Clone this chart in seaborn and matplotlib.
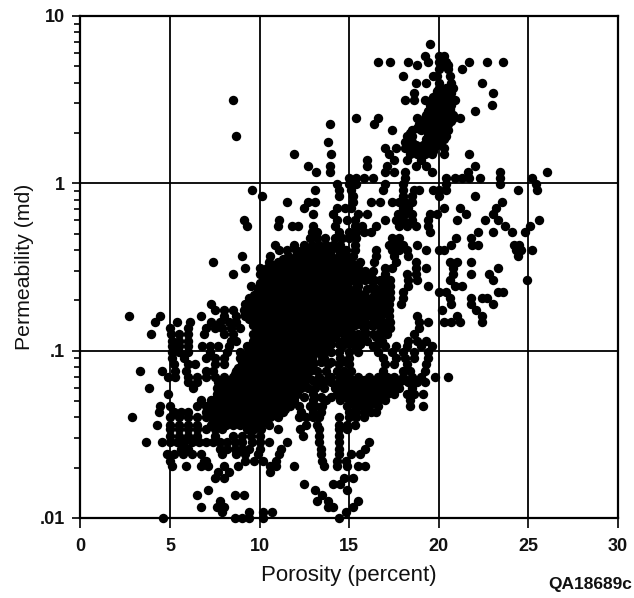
import matplotlib
matplotlib.use("Agg")
import matplotlib.pyplot as plt
from matplotlib.ticker import FixedLocator, FixedFormatter, NullFormatter
import pandas as pd
import seaborn as sns

# Permeability levels (md) and the porosities (percent) read at each level.
upper_perm = [6.8, 5.8, 5.3, 5.1, 4.8, 4.4, 4.0, 3.7, 3.45, 3.15, 2.95, 2.7, 2.46, 2.26, 2.08,
              1.92, 1.76, 1.62, 1.5, 1.38, 1.27, 1.17, 1.08, .99, .91, .84, .77, .71, .655, .60,
              .555, .51, .47]
upper_por = [
    [19.5], [19.2, 20.0, 20.3], [16.6, 17.3, 18.3, 19.4, 20.0, 20.4, 21.7, 22.7, 23.6],
    [18.8, 20.1, 20.5], [20.0, 20.5, 21.3], [18.0, 19.7, 19.9, 20.6],
    [18.7, 19.3, 20.0, 20.7, 22.4], [20.0, 20.4, 20.8], [18.6, 19.9, 20.3, 20.7, 23.0],
    [8.5, 18.1, 18.6, 19.2, 19.7, 20.1, 20.5, 20.9], [19.5, 19.9, 20.3, 20.7, 22.95],
    [19.4, 19.8, 20.2, 20.6, 22.0], [15.4, 16.6, 18.8, 19.2, 19.6, 20.0, 20.4, 20.8, 21.2],
    [13.95, 16.4, 18.9, 19.3, 19.7, 20.1, 20.5], [17.4, 18.5, 19.0, 19.4, 19.8, 20.2, 20.5],
    [8.7, 18.2, 18.5, 19.4, 19.7, 20.0, 20.4], [13.8, 18.1, 18.5, 19.3, 19.7, 20.1],
    [17.0, 17.6, 18.1, 18.5, 18.9, 19.3, 19.7, 20.3], [11.9, 14.0, 17.2, 18.4, 18.8, 19.2, 19.6, 20.3, 21.7],
    [16.0, 17.5, 18.2, 19.0], [12.7, 13.9, 16.0, 17.1, 18.7, 19.3, 22.0],
    [13.15, 13.9, 17.0, 17.5, 18.1, 19.6, 21.6, 23.4, 26.05],
    [15.0, 15.4, 15.8, 16.3, 18.1, 20.4, 20.9, 21.3, 21.7, 22.3, 23.4, 25.2],
    [14.3, 15.0, 15.4, 17.0, 18.0, 20.4, 23.4, 25.4],
    [9.55, 13.1, 14.4, 15.1, 16.9, 18.0, 18.6, 18.9, 19.7, 20.0, 20.4, 24.4, 25.5],
    [10.15, 14.4, 15.2, 18.0, 18.5, 20.0, 22.0],
    [11.55, 12.7, 13.1, 15.2, 16.2, 16.7, 17.4, 17.8, 18.1, 18.5, 23.55],
    [12.45, 14.3, 14.75, 15.1, 18.0, 18.3, 20.3, 21.2, 23.2],
    [12.95, 14.1, 15.5, 16.0, 17.7, 18.1, 18.5, 19.5, 19.9, 21.5, 23.0],
    [9.1, 11.1, 14.3, 14.9, 15.3, 17.0, 17.6, 18.0, 18.5, 19.4, 21.0, 22.6, 23.3, 25.6],
    [9.3, 11.0, 11.8, 12.15, 13.0, 14.2, 15.3, 15.7, 16.5, 17.8, 18.2, 18.7, 19.4, 23.7, 25.1],
    [12.9, 13.2, 14.4, 15.0, 15.4, 15.8, 16.2, 19.5, 22.2, 23.0, 24.1, 24.8],
    [12.8, 13.2, 13.65, 14.2, 14.6, 15.0, 15.4, 17.4, 17.8, 20.95, 21.8],
]

core_perm = [.43, .40, .37, .34, .31, .287, .264, .243, .224, .206, .19, .175, .161, .148, .136,
             .125, .115, .106, .098, .09, .083, .076]
core_por = [
    [10.85, 11.9, 12.45, 12.9, 13.3, 13.7, 14.1, 14.5, 15.3, 17.2, 17.6, 18.0, 18.8, 20.7, 21.85, 22.2, 24.2, 24.5],
    [11.1, 11.5, 12.0, 12.4, 12.8, 13.2, 13.6, 14.0, 14.4, 14.8, 15.3, 16.5, 17.4, 17.8, 18.2, 19.3, 20.0, 20.3, 24.3, 24.6, 25.2],
    [9.0, 10.6, 11.6, 12.0, 12.4, 12.8, 13.2, 13.6, 14.0, 14.4, 14.8, 15.2, 16.5, 17.5, 18.3, 24.4],
    [7.4, 10.5, 11.0, 11.5, 11.9, 12.3, 12.7, 13.1, 13.5, 13.9, 14.3, 14.7, 15.1, 15.6, 16.4, 17.6, 18.7, 20.6, 21.0, 21.8],
    [9.2, 10.0, 10.4, 10.8, 11.2, 11.7, 12.1, 12.5, 12.9, 13.3, 13.7, 14.1, 14.5, 14.9, 15.4, 17.0, 17.4, 18.7, 19.3, 20.8, 23.3],
    [8.5, 10.0, 10.4, 10.9, 11.3, 11.7, 12.2, 12.6, 13.0, 13.4, 13.8, 14.2, 14.6, 15.0, 15.4, 15.8, 16.2, 17.0, 18.2, 18.7, 20.8, 21.8, 22.8],
    [10.2, 10.6, 11.0, 11.5, 11.9, 12.4, 12.8, 13.2, 13.6, 14.0, 14.4, 14.8, 15.2, 15.6, 16.4, 17.0, 17.3, 18.3, 18.8, 20.6, 23.0, 24.9],
    [9.5, 10.0, 10.4, 10.8, 11.2, 11.7, 12.1, 12.5, 12.9, 13.3, 13.7, 14.1, 14.5, 14.9, 15.5, 16.3, 16.9, 17.3, 18.3, 19.4, 20.9, 21.3],
    [9.9, 10.3, 10.7, 11.1, 11.5, 11.9, 12.3, 12.7, 13.1, 13.5, 13.9, 14.3, 14.7, 15.1, 15.5, 16.7, 17.3, 18.0, 20.0, 20.4, 23.3, 23.6],
    [9.4, 9.8, 10.2, 10.6, 11.0, 11.4, 11.8, 12.2, 12.6, 13.0, 13.4, 13.8, 14.2, 14.6, 15.0, 15.5, 16.0, 16.6, 17.3, 18.0, 20.6, 21.8, 22.4, 22.7],
    [7.3, 9.2, 9.6, 10.0, 10.4, 10.8, 11.2, 11.6, 12.0, 12.4, 12.8, 13.2, 13.6, 14.0, 14.4, 14.8, 15.3, 15.9, 16.5, 17.2, 17.9, 20.7, 21.8, 23.0],
    [7.5, 8.0, 8.5, 9.1, 9.5, 9.9, 10.3, 10.7, 11.1, 11.5, 11.9, 12.3, 12.7, 13.1, 13.5, 13.9, 14.3, 14.7, 15.1, 15.6, 16.4, 17.2, 20.2, 22.1],
    [2.7, 4.45, 6.7, 8.0, 8.7, 9.2, 9.6, 10.0, 10.4, 10.8, 11.2, 11.6, 12.0, 12.4, 12.8, 13.2, 13.6, 14.0, 14.4, 14.9, 15.4, 16.7, 17.2, 18.8, 21.0, 22.4],
    [4.15, 5.4, 6.1, 7.3, 7.8, 8.3, 8.7, 9.6, 10.0, 10.4, 10.8, 11.2, 11.7, 12.1, 12.5, 12.9, 13.3, 13.7, 14.1, 14.5, 15.1, 15.8, 16.3, 16.9, 17.3, 18.9, 19.4, 20.3, 20.7, 21.2, 22.4],
    [5.0, 6.0, 7.0, 7.5, 7.9, 8.4, 8.9, 9.9, 10.3, 10.7, 11.1, 11.5, 11.9, 12.3, 12.7, 13.1, 13.5, 13.9, 14.3, 14.9, 15.8, 16.9, 17.3, 18.9],
    [3.95, 5.05, 5.5, 6.0, 6.9, 8.0, 8.5, 9.6, 10.0, 10.4, 10.8, 11.2, 11.6, 12.0, 12.4, 12.8, 13.2, 13.6, 14.0, 14.7, 15.5, 16.3, 17.1, 18.6],
    [5.1, 5.5, 6.0, 8.4, 8.7, 9.6, 10.2, 10.6, 11.0, 11.4, 11.8, 12.2, 12.6, 13.0, 13.4, 13.8, 14.6, 15.2, 16.0, 16.8, 18.3, 18.8, 19.3],
    [5.1, 5.5, 6.0, 6.8, 7.2, 7.7, 8.3, 9.3, 9.8, 10.2, 10.6, 11.0, 11.4, 11.8, 12.2, 12.6, 13.0, 13.4, 13.8, 14.6, 15.3, 16.3, 17.0, 17.6, 18.2, 19.0, 19.6],
    [5.1, 5.5, 6.0, 7.2, 8.2, 8.9, 9.6, 10.0, 10.4, 10.8, 11.2, 11.6, 12.0, 12.4, 12.8, 13.2, 14.0, 15.5, 16.6, 17.4, 18.0, 18.6, 19.4],
    [5.1, 5.8, 7.0, 7.5, 8.0, 8.9, 9.3, 9.7, 10.1, 10.5, 10.9, 11.3, 11.7, 12.1, 12.5, 12.9, 13.6, 14.5, 15.0, 16.9, 17.6, 18.1, 18.6, 19.4],
    [5.2, 6.0, 6.4, 7.5, 8.0, 9.1, 9.5, 9.9, 10.3, 10.7, 11.1, 11.5, 11.9, 12.3, 12.7, 13.0, 13.8, 14.4, 15.0, 17.0, 17.5, 18.2, 19.3],
    [3.3, 4.55, 5.3, 5.9, 7.0, 7.4, 8.7, 9.1, 9.5, 9.9, 10.3, 10.7, 11.1, 11.5, 11.9, 12.3, 12.8, 13.7, 14.3, 15.1, 16.9, 18.0, 18.4, 19.2],
]

lower_perm = [.07, .065, .06, .055, .051, .047, .043, .04, .036, .034, .031, .0285, .026, .024, .022,
              .0205, .0188, .0173, .016, .0147, .0138, .0127, .0117, .0108, .01]
lower_por = [
    [4.9, 5.3, 6.0, 6.5, 7.0, 7.5, 8.0, 8.5, 8.9, 9.3, 9.7, 10.1, 10.5, 10.9, 11.3, 11.7, 12.1, 12.6, 13.3, 14.0, 14.5, 15.0, 15.5, 16.1, 16.6, 17.1, 17.5, 18.0, 18.5, 19.0, 19.8, 20.5],
    [6.0, 6.5, 7.7, 8.1, 8.5, 8.9, 9.3, 9.7, 10.1, 10.5, 10.9, 11.3, 11.7, 12.1, 12.5, 13.3, 14.0, 14.4, 14.8, 15.2, 15.6, 16.0, 16.4, 16.8, 17.3, 17.8, 18.3, 18.8, 19.2],
    [3.8, 6.3, 7.6, 8.0, 8.4, 8.8, 9.2, 9.6, 10.0, 10.4, 10.8, 11.2, 11.6, 12.0, 12.3, 13.1, 14.2, 14.6, 15.0, 15.4, 15.8, 16.2, 16.6, 17.0, 17.4, 17.8, 18.5],
    [4.9, 7.6, 7.9, 8.3, 8.7, 9.1, 9.5, 9.9, 10.3, 10.7, 11.1, 11.5, 12.1, 13.0, 14.3, 14.7, 15.1, 15.5, 15.9, 16.3, 16.7, 17.1, 17.5, 18.2, 18.6, 19.1],
    [6.7, 7.3, 7.7, 8.1, 8.5, 8.9, 9.3, 9.7, 10.1, 10.5, 10.9, 11.3, 11.9, 13.0, 13.7, 14.5, 15.0, 15.4, 15.8, 16.2, 16.6, 17.0, 18.4],
    [4.45, 5.0, 6.5, 7.0, 7.4, 7.8, 8.2, 8.6, 9.0, 9.4, 9.8, 10.2, 10.6, 11.0, 11.7, 12.8, 13.5, 14.9, 15.3, 15.7, 16.1, 16.6, 18.4, 19.1],
    [4.4, 5.2, 5.6, 6.0, 7.0, 7.4, 7.8, 8.2, 8.6, 9.0, 9.4, 9.8, 10.2, 10.6, 11.3, 12.3, 13.0, 13.4, 15.0, 15.4, 15.8, 16.2, 16.5],
    [2.85, 5.0, 5.5, 6.0, 6.5, 7.0, 7.4, 7.8, 8.2, 8.6, 9.0, 9.4, 9.8, 10.2, 10.6, 11.0, 12.2, 12.6, 13.0, 13.3, 14.4, 15.0, 15.4, 15.8],
    [4.25, 5.0, 5.5, 6.0, 6.5, 7.3, 7.7, 8.1, 8.5, 8.9, 9.3, 9.7, 10.1, 10.5, 12.6, 13.2, 14.4, 14.9, 15.3],
    [5.0, 5.5, 6.0, 6.5, 7.0, 7.5, 7.9, 9.3, 9.7, 10.1, 11.0, 12.25, 13.3, 14.4, 14.9],
    [5.0, 5.5, 6.0, 6.5, 7.5, 8.5, 9.0, 9.5, 10.0, 12.4, 13.3, 14.4],
    [3.65, 4.55, 5.0, 5.4, 5.8, 6.2, 6.6, 7.0, 7.4, 7.8, 8.2, 8.6, 9.0, 9.55, 10.0, 10.5, 11.5, 13.3, 14.4, 16.1],
    [5.6, 6.0, 7.8, 8.2, 8.6, 9.0, 9.4, 10.0, 11.2, 13.45, 14.4, 15.9],
    [4.8, 5.2, 5.7, 6.2, 6.7, 7.9, 8.7, 9.2, 9.9, 11.1, 13.45, 14.4, 15.1, 15.6],
    [5.0, 6.9, 7.0, 9.2, 9.7, 10.2, 10.9, 13.5, 14.3, 14.8],
    [5.1, 5.9, 6.75, 7.1, 8.0, 8.8, 10.6, 10.9, 11.9, 13.6, 14.3, 14.9, 15.5, 15.9],
    [7.7, 8.3, 10.6],
    [7.5, 8.0, 14.7, 15.2],
    [12.5, 14.1, 14.5],
    [7.1, 13.1, 14.9],
    [6.5, 8.6, 9.1, 13.5],
    [7.8, 13.2, 13.8, 15.5],
    [6.75, 7.6, 8.0, 13.8, 14.1, 15.2],
    [7.9, 9.4, 10.2, 10.7, 14.8],
    [4.6, 8.6, 9.0, 9.4, 10.2, 14.4],
]

# In-between levels, read from the solid parts of the cloud.
dense_perm = [3.55, 3.3, 3.0, 2.8, 2.55, 2.35, 2.15, 2.0, 1.84, 1.69, 1.56,
              .355, .325, .30, .275, .253, .233, .215, .198, .182, .168, .154, .142, .13, .12,
              .11, .102, .094, .086, .079, .073, .067, .062, .057, .053, .049, .045, .0415, .038]
dense_por = [
    [19.9, 20.3, 20.6], [19.7, 20.1, 20.5], [19.6, 20.0, 20.4], [19.5, 19.9, 20.3, 20.6],
    [19.3, 19.7, 20.1, 20.5, 20.8], [19.1, 19.5, 19.9, 20.3, 20.7], [18.8, 19.2, 19.6, 20.0, 20.4],
    [18.4, 19.4, 19.8, 20.2], [18.3, 19.3, 19.5, 19.9, 20.3], [18.3, 18.7, 19.1, 19.5, 19.9],
    [18.5, 18.9, 19.3, 19.7],
    [11.3, 11.8, 12.2, 12.6, 13.0, 13.4, 13.8, 14.2, 14.6, 15.0],
    [10.7, 11.2, 11.7, 12.1, 12.5, 12.9, 13.3, 13.7, 14.1, 14.5, 14.9, 15.3, 15.5],
    [10.2, 10.6, 11.1, 11.5, 11.9, 12.3, 12.7, 13.1, 13.5, 13.9, 14.3, 14.7, 15.1, 15.6],
    [10.2, 10.7, 11.1, 11.5, 12.0, 12.4, 12.8, 13.2, 13.6, 14.0, 14.4, 14.8, 15.2, 15.6],
    [10.0, 10.4, 10.8, 11.3, 11.7, 12.1, 12.5, 12.9, 13.3, 13.7, 14.1, 14.5, 14.9, 15.4, 16.8],
    [9.9, 10.2, 10.6, 11.0, 11.4, 11.8, 12.2, 12.6, 13.0, 13.4, 13.8, 14.2, 14.6, 15.0, 15.4, 16.5, 17.0],
    [9.7, 10.1, 10.5, 10.9, 11.3, 11.7, 12.1, 12.5, 12.9, 13.3, 13.7, 14.1, 14.5, 14.9, 15.3, 15.8, 16.4, 17.0],
    [9.5, 9.9, 10.3, 10.7, 11.1, 11.5, 11.9, 12.3, 12.7, 13.1, 13.5, 13.9, 14.3, 14.7, 15.1, 15.6, 16.2, 16.9],
    [9.3, 9.7, 10.1, 10.5, 10.9, 11.3, 11.7, 12.1, 12.5, 12.9, 13.3, 13.7, 14.1, 14.5, 15.0, 15.2, 16.0, 16.7],
    [9.2, 9.7, 10.1, 10.5, 11.0, 11.4, 11.8, 12.2, 12.6, 13.0, 13.4, 13.8, 14.2, 14.6, 15.0, 16.0, 16.8],
    [9.4, 9.8, 10.2, 10.6, 11.0, 11.4, 11.8, 12.2, 12.6, 13.0, 13.4, 13.8, 14.2, 14.8, 15.5, 16.5],
    [9.6, 10.1, 10.5, 10.9, 11.3, 11.7, 12.1, 12.5, 12.9, 13.3, 13.7, 14.1, 14.6, 15.3, 16.2, 16.9],
    [9.8, 10.2, 10.6, 11.0, 11.4, 11.8, 12.2, 12.6, 13.0, 13.4, 13.8, 14.4, 15.0, 15.9, 16.7],
    [9.8, 10.4, 10.8, 11.2, 11.6, 12.0, 12.4, 12.8, 13.2, 13.6, 14.2, 14.9, 15.6, 16.5],
    [9.6, 10.0, 10.4, 10.8, 11.2, 11.6, 12.0, 12.4, 12.8, 13.2, 13.8, 14.7, 15.6],
    [9.4, 9.8, 10.2, 10.6, 11.0, 11.4, 11.8, 12.2, 12.6, 13.0, 13.6],
    [9.2, 9.6, 10.0, 10.4, 10.8, 11.2, 11.6, 12.0, 12.4, 12.8, 13.4],
    [9.0, 9.4, 9.8, 10.2, 10.6, 11.0, 11.4, 11.8, 12.2, 12.6, 13.0],
    [8.8, 9.3, 9.7, 10.1, 10.5, 10.9, 11.3, 11.7, 12.1, 12.5, 12.8],
    [8.6, 9.0, 9.4, 9.8, 10.2, 10.6, 11.0, 11.4, 11.8, 12.2, 12.6],
    [8.2, 8.7, 9.1, 9.5, 9.9, 10.3, 10.7, 11.1, 11.5, 11.9, 12.4, 14.6, 15.0, 15.4, 15.8, 16.2, 16.6, 17.0, 17.5, 18.0],
    [8.0, 8.4, 8.8, 9.2, 9.6, 10.0, 10.4, 10.8, 11.2, 11.6, 12.0, 12.3, 14.5, 14.9, 15.3, 15.7, 16.1, 16.5, 16.9, 17.3, 17.7],
    [7.8, 8.2, 8.6, 9.0, 9.4, 9.8, 10.2, 10.6, 11.0, 11.4, 11.8, 12.1, 14.6, 15.0, 15.4, 15.8, 16.2, 16.6, 17.0, 17.4],
    [7.6, 8.0, 8.4, 8.8, 9.2, 9.6, 10.0, 10.4, 10.8, 11.2, 11.6, 11.9, 14.8, 15.2, 15.6, 16.0, 16.4, 16.8],
    [7.4, 7.8, 8.2, 8.6, 9.0, 9.4, 9.8, 10.2, 10.6, 11.0, 11.4, 11.7, 15.1, 15.5, 15.9, 16.3],
    [7.2, 7.6, 8.0, 8.4, 8.8, 9.2, 9.6, 10.0, 10.4, 10.8, 11.1, 11.4],
    [7.2, 7.6, 8.0, 8.4, 8.8, 9.2, 9.6, 10.0, 10.4, 10.8, 11.0],
    [7.4, 7.8, 8.2, 8.6, 9.0, 9.4, 9.8, 10.1, 10.4],
]

# Further readings on the right flank of the cloud.
flank_perm = [.30, .264, .233, .206, .182, .161, .142, .125, .11, .098, .086, .076, .067, .06, .053, .047]
flank_por = [
    [15.9, 16.3], [15.9, 16.2, 16.7], [16.0, 16.4], [16.3, 16.9], [15.7, 16.1, 16.9],
    [15.7, 16.0, 16.4], [15.2, 15.7, 16.4, 16.7], [15.0, 15.2, 15.9, 16.7],
    [14.0, 14.4, 15.0, 15.6, 16.6], [13.6, 14.4, 15.0], [13.4, 14.0, 14.8], [13.2, 14.7],
    [12.9, 13.7], [12.7, 13.6], [12.5, 13.4, 14.0], [12.2, 13.1],
]

x_ticks = [0, 5, 10, 15, 20, 25, 30]
y_ticks = [.01, .1, 1, 10]
y_tick_labels = [".01", ".1", "1", "10"]
y_minor = [m * d for d in (.01, .1, 1) for m in (2, 3, 4, 5, 6, 7, 8, 9)]

rows = []
for perms, pors in ((upper_perm, upper_por), (core_perm, core_por), (lower_perm, lower_por),
                    (dense_perm, dense_por), (flank_perm, flank_por)):
    for p, xs in zip(perms, pors):
        rows += [(x, p) for x in xs]
df = pd.DataFrame(rows, columns=["porosity", "permeability"])

sns.set_style("white")
plt.rcParams["font.family"] = ["Liberation Sans", "DejaVu Sans"]

fig = plt.figure(figsize=(6.34, 5.98), dpi=100)
ax = fig.add_axes([80.5 / 634, 1 - 518 / 598, (618 - 80.5) / 634, (518 - 16) / 598])
ax.set_yscale("log")
sns.scatterplot(data=df, x="porosity", y="permeability", ax=ax, color="black", s=46,
                linewidth=0, clip_on=False, zorder=3, legend=False)
ax.set_xlim(0, 30)
ax.set_ylim(.01, 10)
ax.xaxis.set_major_locator(FixedLocator(x_ticks))
ax.yaxis.set_major_locator(FixedLocator(y_ticks))
ax.yaxis.set_major_formatter(FixedFormatter(y_tick_labels))
ax.yaxis.set_minor_locator(FixedLocator(y_minor))
ax.yaxis.set_minor_formatter(NullFormatter())
ax.grid(True, which="major", color="black", linewidth=1.3)
ax.tick_params(axis="x", which="major", length=7.5, width=1.2, color="black", labelsize=13, pad=7,
               bottom=True, labelcolor="#111111")
ax.tick_params(axis="y", which="major", length=6, width=1.2, color="black", labelsize=13, pad=5,
               left=True, labelcolor="#111111")
ax.tick_params(axis="y", which="minor", length=4, width=1.2, color="black", left=True)
for s in ax.spines.values():
    s.set_visible(True)
    s.set_color("black")
    s.set_linewidth(1.6)
ax.set_xlabel("Porosity (percent)", fontsize=16, labelpad=7, color="#111111")
ax.set_ylabel("Permeability (md)", fontsize=15.3, labelpad=4, color="#111111")
for lab in ax.get_xticklabels() + ax.get_yticklabels():
    lab.set_fontweight("bold")
fig.text(632 / 634, 1 - 585 / 598, "QA18689c", ha="right", va="center", fontsize=12.5,
         fontweight="bold", color="#111111")
fig.savefig("out.png", dpi=100)
